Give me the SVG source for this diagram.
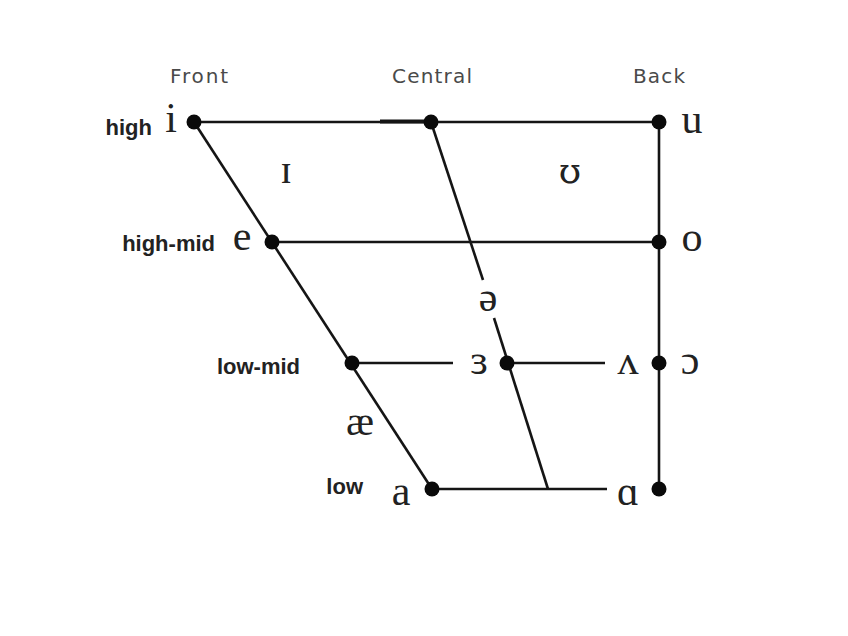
<svg xmlns="http://www.w3.org/2000/svg" width="848" height="636" viewBox="0 0 848 636">
<style>
.ln{stroke:#151515;stroke-width:2.6;fill:none}
.dot{fill:#0a0a0a}
.hd{font-family:"DejaVu Sans","Liberation Sans",sans-serif;font-size:20px;fill:#4a4a4a;text-anchor:middle}
.lv{font-family:"Liberation Sans",Arial,sans-serif;font-weight:bold;font-size:22px;fill:#222;text-anchor:end}
.v{font-family:"Liberation Serif","DejaVu Serif",serif;font-size:42px;fill:#222;text-anchor:middle}
.vd{font-family:"DejaVu Serif","Liberation Serif",serif;font-size:36px;fill:#222;text-anchor:middle}
</style>
<rect width="848" height="636" fill="#fff"/>
<g id="connectors">
<line class="ln" x1="194" y1="122" x2="659" y2="122"/>
<line x1="380" y1="121.5" x2="431" y2="121.5" stroke="#151515" stroke-width="4"/>
<line class="ln" x1="659" y1="122" x2="659" y2="489"/>
<line class="ln" x1="194" y1="122" x2="432" y2="489"/>
<line class="ln" x1="272" y1="242" x2="659" y2="242"/>
<line class="ln" x1="431" y1="122" x2="483" y2="280"/>
<line class="ln" x1="494" y1="318" x2="548" y2="489"/>
<line class="ln" x1="352" y1="363" x2="453" y2="363"/>
<line class="ln" x1="506" y1="363" x2="605" y2="363"/>
<line class="ln" x1="432" y1="489" x2="607" y2="489"/>
</g>
<g id="headers">
<text class="hd" x="199" y="83" textLength="58" lengthAdjust="spacing">Front</text>
<text class="hd" x="432" y="83" textLength="80" lengthAdjust="spacing">Central</text>
<text class="hd" x="659" y="83" textLength="52" lengthAdjust="spacing">Back</text>
</g>
<g id="levels">
<text class="lv" x="152" y="135">high</text>
<text class="lv" x="215" y="251">high-mid</text>
<text class="lv" x="300" y="374">low-mid</text>
<text class="lv" x="363" y="494">low</text>
</g>
<g id="dots">
<circle class="dot" cx="194" cy="122" r="7.5"/>
<circle class="dot" cx="431" cy="122" r="7.5"/>
<circle class="dot" cx="659" cy="122" r="7.5"/>
<circle class="dot" cx="272" cy="242" r="7.5"/>
<circle class="dot" cx="659" cy="242" r="7.5"/>
<circle class="dot" cx="352" cy="363" r="7.5"/>
<circle class="dot" cx="507" cy="363" r="7.5"/>
<circle class="dot" cx="659" cy="363" r="7.5"/>
<circle class="dot" cx="432" cy="489" r="7.5"/>
<circle class="dot" cx="659" cy="489" r="7.5"/>
</g>
<g id="vowels">
<text class="v" x="171" y="132">i</text>
<text class="v" x="692" y="133">u</text>
<text class="v" x="286" y="183">ɪ</text>
<text class="vd" x="570" y="183">ʊ</text>
<text class="v" x="242" y="250">e</text>
<text class="v" x="692" y="251">o</text>
<text class="v" x="488" y="311">ə</text>
<text class="v" x="479" y="374">ɜ</text>
<text class="v" x="628" y="374">ʌ</text>
<text class="v" x="690" y="374">ɔ</text>
<text class="v" x="360" y="435">æ</text>
<text class="v" x="401" y="505">a</text>
<text class="v" x="628" y="505">ɑ</text>
</g>
</svg>
